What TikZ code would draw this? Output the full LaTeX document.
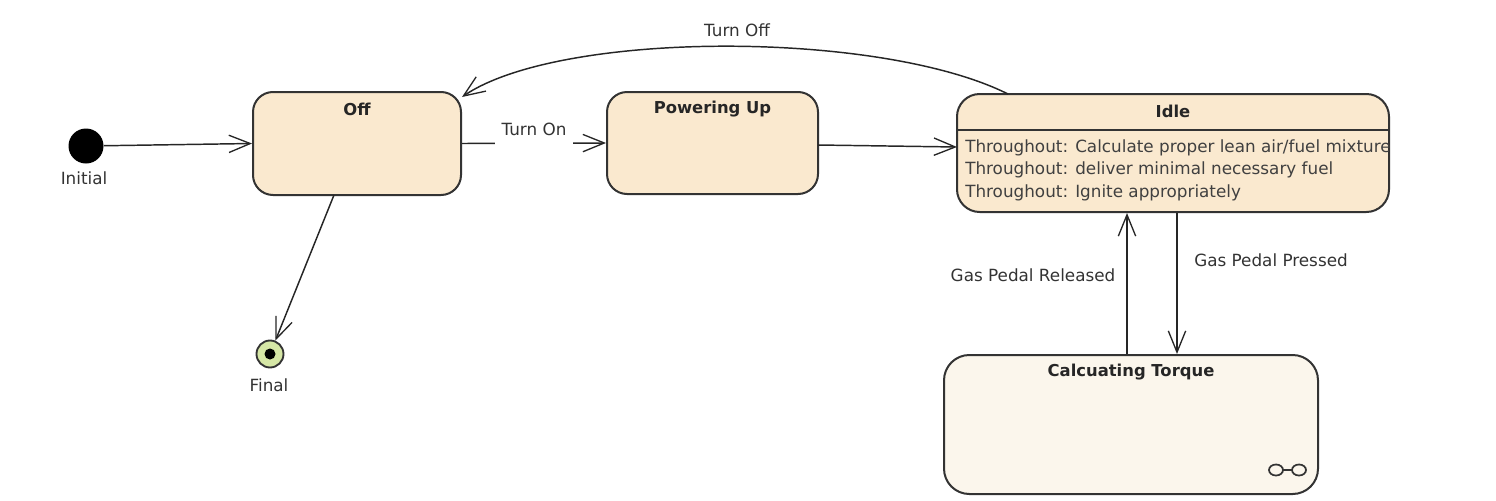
\documentclass[tikz,border=0pt]{standalone}
\usepackage{fontspec}
\setmainfont{DejaVu Sans}
\usetikzlibrary{arrows.meta}
\definecolor{statefill}{HTML}{FAE9CF}
\definecolor{paleFill}{HTML}{FBF6EC}
\definecolor{edgegray}{HTML}{333333}
\definecolor{txtgray}{HTML}{404040}
\definecolor{finalgreen}{HTML}{D6E7A6}
\tikzset{
  statebox/.style={draw=edgegray, line width=1.5pt, fill=statefill, rounded corners=15pt, inner sep=0pt},
  titletext/.style={font=\fontsize{12.3}{15}\selectfont\bfseries, text=black!85, inner sep=0pt},
  bodytext/.style={font=\fontsize{12.6}{15}\selectfont, text=txtgray, inner sep=0pt, anchor=west},
  lbl/.style={font=\fontsize{12.6}{15}\selectfont, text=black!80, inner sep=2pt},
  arr/.style={draw=black!85, line width=1.1pt, -{Straight Barb[length=16pt,width=13pt,line width=1pt]}},
}
\begin{document}
\begin{tikzpicture}[x=0.75pt,y=-0.75pt]
\useasboundingbox (0,0) rectangle (1496,500);

% initial and final
\node[circle, fill=black, minimum size=35*0.75pt, inner sep=0pt] (init) at (86,146) {};
\node[lbl] (initlbl) at (84,178) {Initial};
\node[circle, draw=edgegray, line width=1.4pt, fill=finalgreen, minimum size=27*0.75pt, inner sep=0pt] (final) at (270,354) {};
\node[circle, fill=black, minimum size=11*0.75pt, inner sep=0pt] (finaldot) at (270,354) {};
\node[lbl] (finallbl) at (269,385) {Final};

% states
\node[statebox, minimum width=208*0.75pt, minimum height=103*0.75pt] (off) at (357,143.5) {};
\node[titletext] (offt) at (357,109) {Off};
\node[statebox, minimum width=211*0.75pt, minimum height=102*0.75pt] (pwr) at (712.5,143) {};
\node[titletext] (pwrt) at (712.5,109) {Powering Up};
\node[statebox, rounded corners=17pt, minimum width=432*0.75pt, minimum height=118*0.75pt] (idle) at (1173,153) {};
\node[titletext] (idlet) at (1173,111) {Idle};
\coordinate (hl) at (957,130);
\coordinate (hr) at (1389,130);
\draw[edgegray, line width=1.3pt] (hl) -- (hr);
\node[bodytext] (b1) at (965,148) {Throughout: Calculate proper lean air/fuel mixture};
\node[bodytext] (b2) at (965,170) {Throughout: deliver minimal necessary fuel};
\node[bodytext] (b3) at (965,193) {Throughout: Ignite appropriately};
\node[statebox, fill=paleFill, rounded corners=19pt, minimum width=374*0.75pt, minimum height=139*0.75pt] (torque) at (1131,424.5) {};
\node[titletext] (torquet) at (1131,372) {Calcuating Torque};
% composite-state symbol
\draw[edgegray, line width=1.3pt] (1276,470) ellipse (7 and 5.5);
\draw[edgegray, line width=1.3pt] (1299,470) ellipse (7 and 5.5);
\draw[edgegray, line width=1.3pt] (1283,470) -- (1292,470);

% transitions
\draw[arr] (init) -- (off.west);
\draw[arr] (off.east) -- node[lbl, fill=white, inner xsep=5pt, yshift=6pt, text depth=9pt] (turnon) {Turn On} (pwr.west);
\coordinate (pwrout) at (818,145);
\coordinate (idlein) at (957,147);
\draw[arr] (pwrout) -- (idlein);
\coordinate (toS) at (1008,94);
\coordinate (toE) at (462,97);
\draw[arr] (toS) .. controls (880,30) and (560,30) .. (toE);
\node[lbl] (turnoff) at (737,30) {Turn Off};
\coordinate (offout) at (334,195);
\draw[arr] (offout) -- (final);
\draw[arr] (torque.north -| 1127,0) -- (idle.south -| 1127,0);
\draw[arr] (idle.south -| 1177,0) -- (torque.north -| 1177,0);
\node[lbl] (gpr) at (1033,275) {Gas Pedal Released};
\node[lbl] (gpp) at (1271,260) {Gas Pedal Pressed};
\end{tikzpicture}
\end{document}
